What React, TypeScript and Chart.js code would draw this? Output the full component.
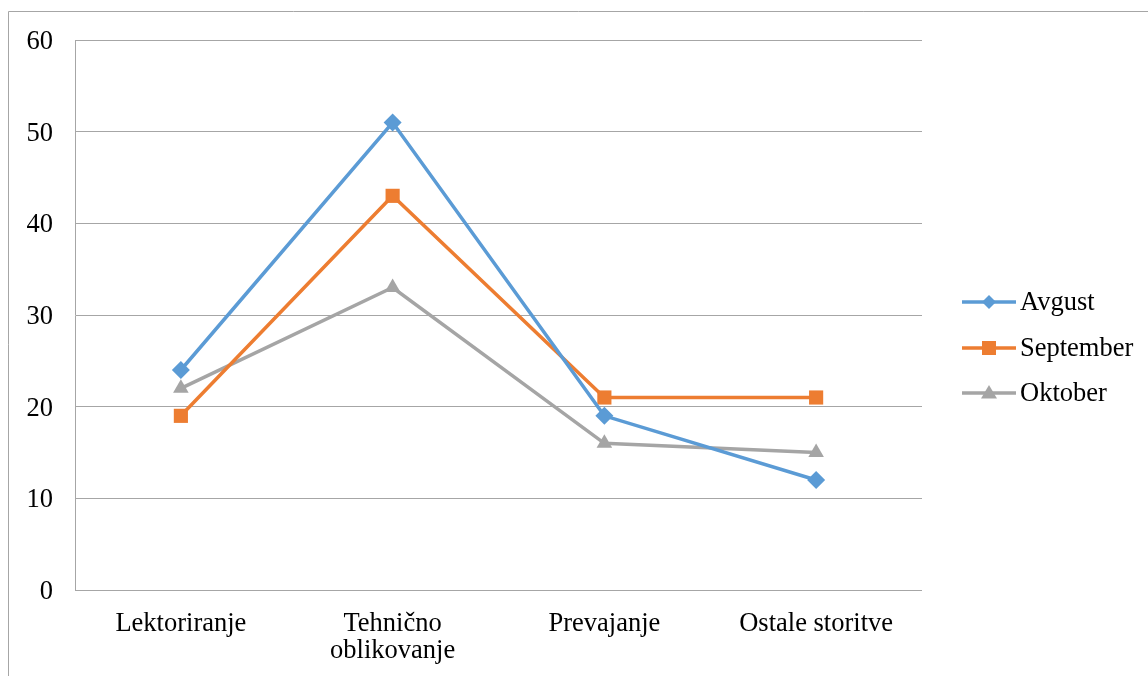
import React, { useEffect, useRef } from "react";
import { Chart, registerables } from "chart.js";

Chart.register(...registerables);

const categories: (string | string[])[] = [
  "Lektoriranje",
  ["Tehnično", "oblikovanje"],
  "Prevajanje",
  "Ostale storitve",
];
const avgust = [24, 51, 19, 12];
const september = [19, 43, 21, 21];
const oktober = [22, 33, 16, 15];
const seriesNames = ["Avgust", "September", "Oktober"];

const FONT = "'Liberation Serif', 'Times New Roman', serif";
const GRID = "#a6a6a6";
const FS = 26.5;

const frameAndLegend = {
  id: "frameAndLegend",
  beforeDraw(chart: any) {
    const ctx = chart.ctx;
    ctx.save();
    ctx.strokeStyle = GRID;
    ctx.lineWidth = 1;
    ctx.beginPath();
    ctx.moveTo(8.5, 2000);
    ctx.lineTo(8.5, 11.5);
    ctx.lineTo(2000, 11.5);
    ctx.stroke();
    ctx.restore();
  },
  afterDraw(chart: any) {
    const ctx = chart.ctx;
    const ys = [302, 348, 393];
    ctx.save();
    chart.data.datasets.forEach((ds: any, i: number) => {
      const y = ys[i];
      ctx.strokeStyle = ds.borderColor;
      ctx.lineWidth = 3.5;
      ctx.beginPath();
      ctx.moveTo(962, y);
      ctx.lineTo(1016, y);
      ctx.stroke();
      ctx.fillStyle = ds.backgroundColor;
      ctx.beginPath();
      if (ds.pointStyle === "rectRot") {
        const r = 7;
        ctx.moveTo(989, y - r);
        ctx.lineTo(989 + r, y);
        ctx.lineTo(989, y + r);
        ctx.lineTo(989 - r, y);
        ctx.closePath();
      } else if (ds.pointStyle === "rect") {
        ctx.rect(989 - 7, y - 7, 14, 14);
      } else {
        const r = 8;
        ctx.moveTo(989, y - r);
        ctx.lineTo(989 + r, y + r * 0.7);
        ctx.lineTo(989 - r, y + r * 0.7);
        ctx.closePath();
      }
      ctx.fill();
      ctx.fillStyle = "#000";
      ctx.font = `${FS}px ${FONT}`;
      ctx.textAlign = "left";
      ctx.textBaseline = "middle";
      ctx.fillText(ds.label, 1020, y + 1);
    });
    ctx.restore();
  },
};

export default function App() {
  const ref = useRef<HTMLCanvasElement | null>(null);
  useEffect(() => {
    if (!ref.current) return;
    const chart = new Chart(ref.current, {
      type: "line",
      data: {
        labels: categories,
        datasets: [
          {
            label: seriesNames[0],
            data: avgust,
            borderColor: "#5B9BD5",
            backgroundColor: "#5B9BD5",
            pointStyle: "rectRot",
            pointRadius: 9,
            borderWidth: 3.5,
            pointBorderWidth: 0,
          },
          {
            label: seriesNames[1],
            data: september,
            borderColor: "#ED7D31",
            backgroundColor: "#ED7D31",
            pointStyle: "rect",
            pointRadius: 10,
            borderWidth: 3.5,
            pointBorderWidth: 0,
          },
          {
            label: seriesNames[2],
            data: oktober,
            borderColor: "#A5A5A5",
            backgroundColor: "#A5A5A5",
            pointStyle: "triangle",
            pointRadius: 9,
            borderWidth: 3.5,
            pointBorderWidth: 0,
          },
        ],
      },
      options: {
        responsive: false,
        animation: false,
        layout: { padding: { left: 0, top: 40, right: 226, bottom: 0 } },
        plugins: { legend: { display: false }, tooltip: { enabled: false } },
        scales: {
          x: {
            offset: true,
            grid: { display: false, drawTicks: false },
            border: { display: false },
            ticks: {
              color: "#000",
              padding: 21,
              maxRotation: 0,
              autoSkip: false,
              font: { family: FONT, size: FS, lineHeight: 1.0 },
            },
            afterFit: (s: any) => {
              s.height = 86;
            },
          },
          y: {
            min: 0,
            max: 60,
            ticks: {
              stepSize: 10,
              color: "#000",
              padding: 22,
              labelOffset: 2,
              font: { family: FONT, size: FS },
            },
            grid: { color: GRID, lineWidth: 1, drawTicks: false },
            border: { display: true, color: GRID, width: 1 },
            afterFit: (s: any) => {
              s.width = 75;
            },
          },
        },
      },
      plugins: [frameAndLegend],
    });
    return () => chart.destroy();
  }, []);
  return (
    <div style={{ position: "absolute", left: 0, top: 0, width: 1148, height: 676, background: "#fff" }}>
      <canvas ref={ref} width={1148} height={676} style={{ display: "block" }} />
    </div>
  );
}
